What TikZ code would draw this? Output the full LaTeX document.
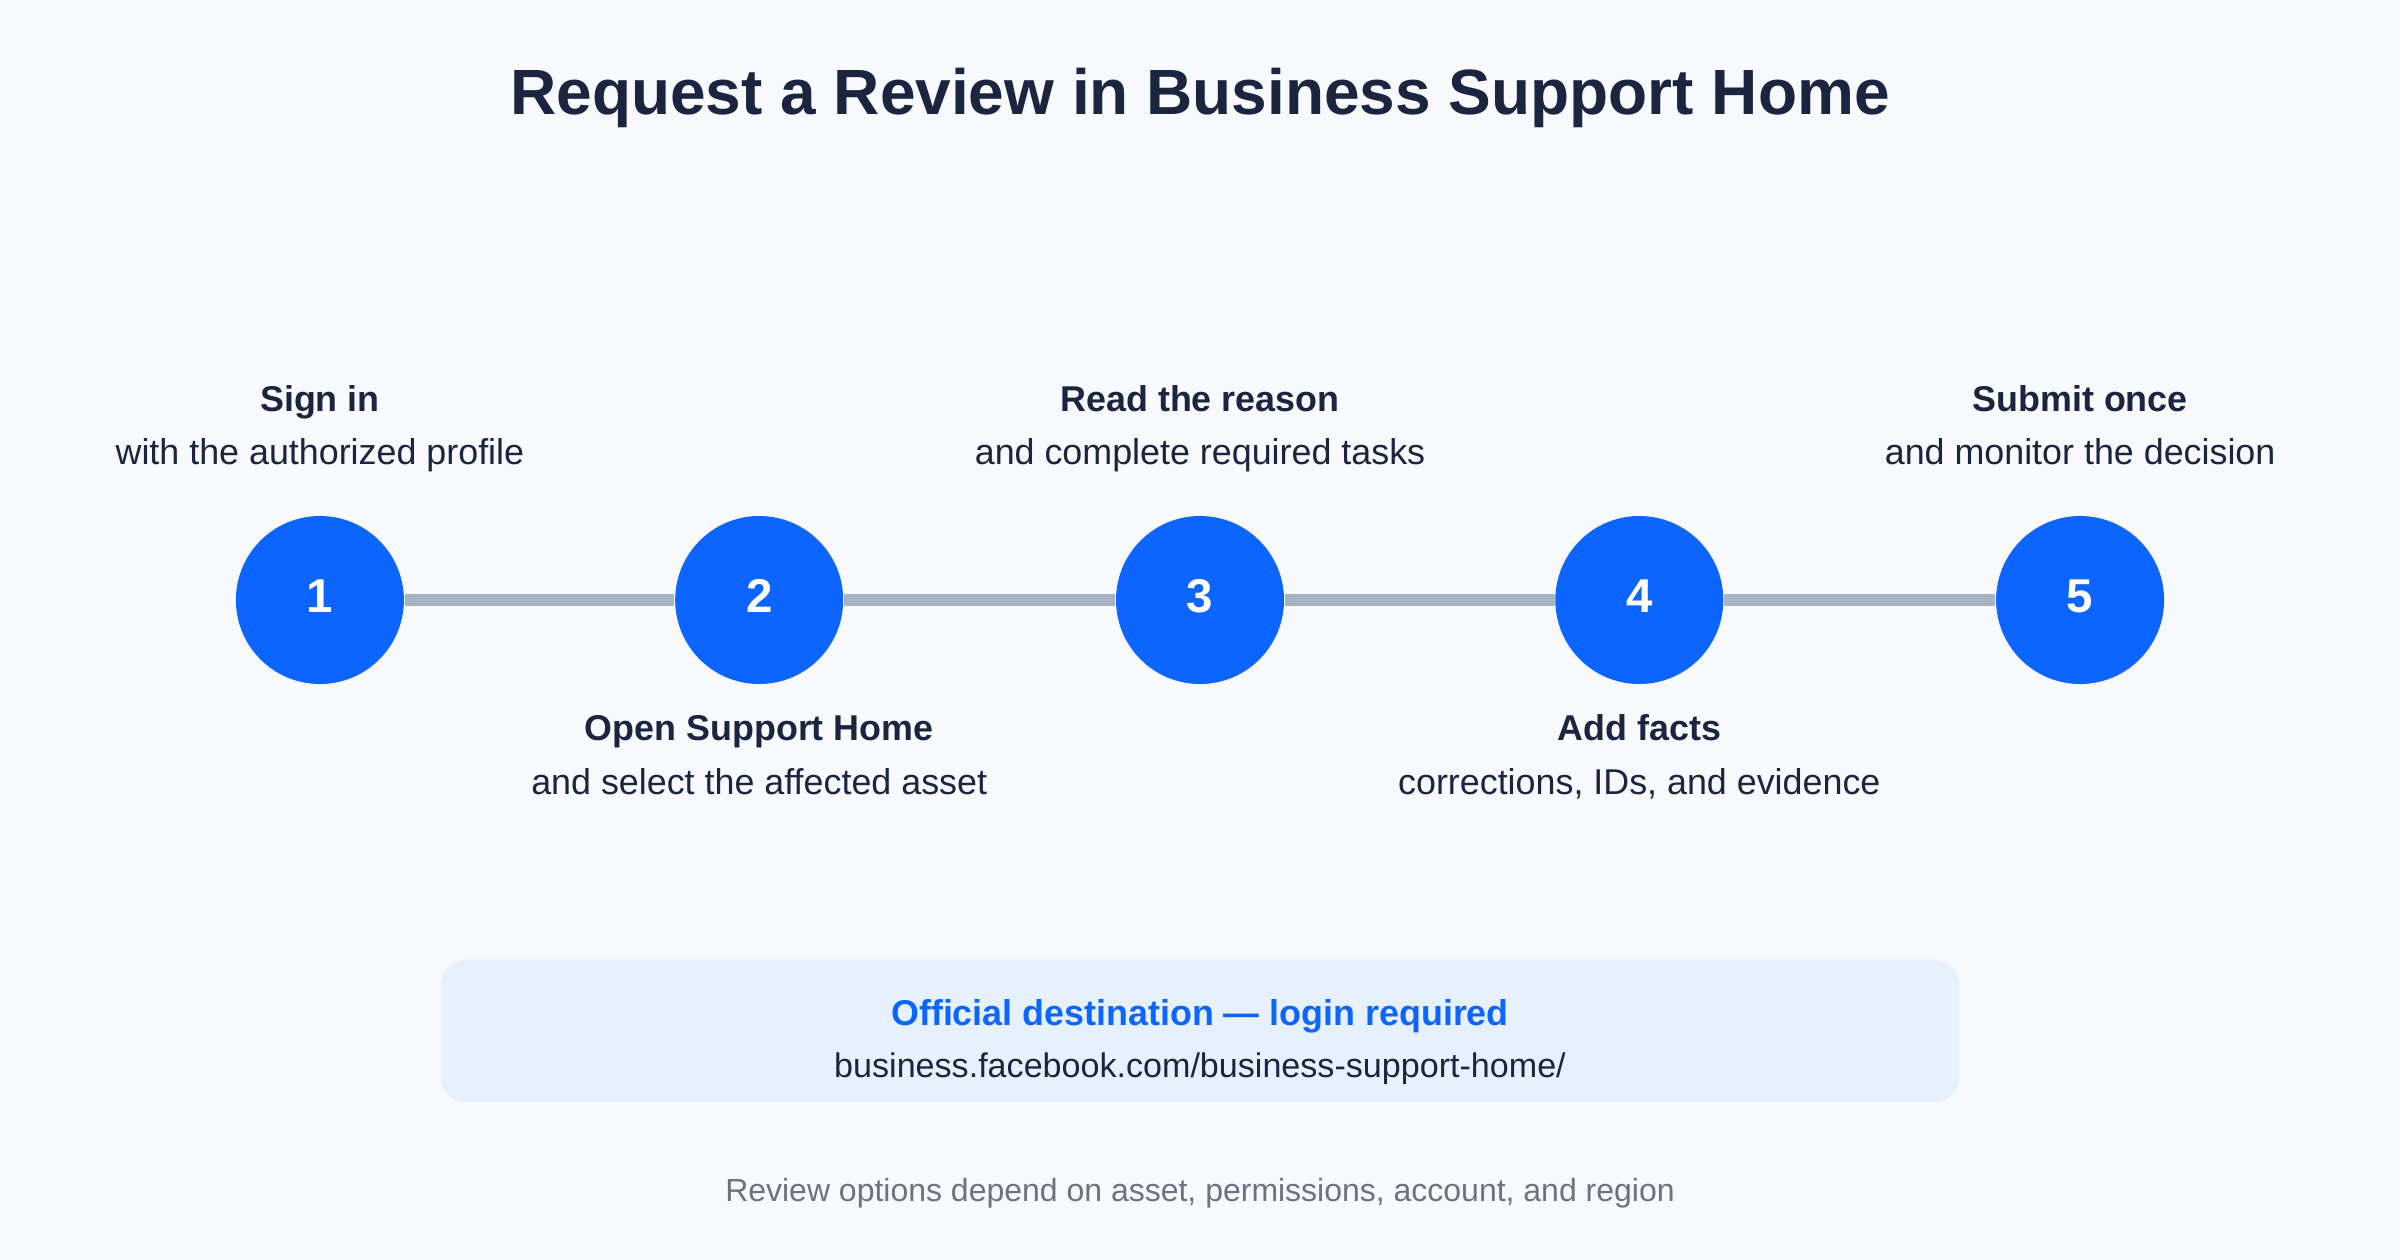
\documentclass[tikz,border=0pt]{standalone}
\usepackage{fontspec}
\setmainfont{Liberation Sans}
\usetikzlibrary{positioning}
\definecolor{PageBg}{HTML}{F7F9FC}
\definecolor{InkDark}{HTML}{1B2540}
\definecolor{StepBlue}{HTML}{0B65FE}
\definecolor{RailGray}{HTML}{A7B4C6}
\definecolor{BoxBg}{HTML}{E7F0FD}
\definecolor{NoteGray}{HTML}{6B7280}
\tikzset{
  every node/.style={text height=0.72em,text depth=0.22em},
  stepdot/.style={circle,fill=StepBlue,minimum size=1.68cm,inner sep=0pt,
    text height=0.72em,text depth=0pt,
    text=white,font=\fontsize{13.5}{16}\selectfont\bfseries},
  head/.style={text=InkDark,font=\fontsize{10.2}{12}\selectfont\bfseries},
  sub/.style={text=InkDark,font=\fontsize{10.2}{12}\selectfont},
  rail/.style={line width=3.6pt,color=RailGray}
}
\begin{document}
\begin{tikzpicture}[x=0.015306cm,y=-0.015306cm]
    \fill[PageBg] (0,0) rectangle (1568,823);
    \useasboundingbox (0,0) rectangle (1568,823);
    \node[text=InkDark,font=\fontsize{18.2}{22}\selectfont\bfseries] (title) at (784,69)
      {Request a Review in Business Support Home};
    % steps
    \foreach \n/\x in {1/209,2/496,3/784,4/1071,5/1359}
      \node[stepdot] (s\n) at (\x,392) {\n};
    \foreach \a/\b in {1/2,2/3,3/4,4/5}
      \draw[rail] (s\a) -- (s\b);
    % labels above
    \node[head] (h1) at (209,263) {Sign in};
    \node[sub] (t1) at (209,298) {with the authorized profile};
    \node[head] (h3) at (784,263) {Read the reason};
    \node[sub] (t3) at (784,298) {and complete required tasks};
    \node[head] (h5) at (1359,263) {Submit once};
    \node[sub] (t5) at (1359,298) {and monitor the decision};
    % labels below
    \node[head] (h2) at (496,478) {Open Support Home};
    \node[sub] (t2) at (496,513) {and select the affected asset};
    \node[head] (h4) at (1071,478) {Add facts};
    \node[sub] (t4) at (1071,513) {corrections, IDs, and evidence};
    % destination box
    \fill[BoxBg,rounded corners=0.25cm] (288,627) rectangle (1280,720);
    \node[text=StepBlue,font=\fontsize{10.2}{12}\selectfont\bfseries] (dest) at (784,664)
      {Official destination — login required};
    \node[sub,font=\fontsize{9.7}{12}\selectfont] (url) at (784,698) {business.facebook.com/business-support-home/};
    \node[text=NoteGray,font=\fontsize{9.1}{11}\selectfont] (note) at (784,779)
      {Review options depend on asset, permissions, account, and region};
\end{tikzpicture}
\end{document}
